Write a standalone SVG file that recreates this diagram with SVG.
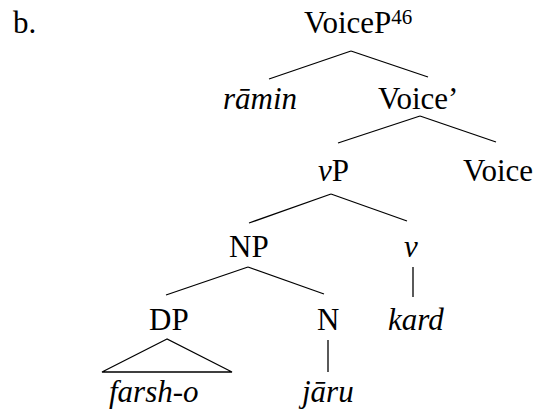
<svg xmlns="http://www.w3.org/2000/svg" width="541" height="412" viewBox="0 0 541 412">
<style>
text{font-family:"Liberation Serif","Times New Roman",serif;font-size:31px;fill:#000}
.i{font-style:italic}
.sup{font-size:21px}
.e line,.e polygon{stroke:#000;stroke-width:1.3;fill:none}
</style>
<rect width="541" height="412" fill="#fff"/>
<g id="label"><text x="13" y="33">b.</text></g>
<g class="e" id="connectors">
<line x1="351" y1="51" x2="269" y2="79"/>
<line x1="351" y1="51" x2="428" y2="77"/>
<line x1="420" y1="116" x2="338" y2="143"/>
<line x1="420" y1="116" x2="496" y2="142"/>
<line x1="331" y1="194" x2="249" y2="223"/>
<line x1="331" y1="194" x2="407" y2="221"/>
<line x1="248" y1="267" x2="166" y2="295"/>
<line x1="248" y1="267" x2="324" y2="294"/>
<line x1="413" y1="267" x2="413" y2="297"/>
<polygon points="167,339 102,372 232,372"/>
<line x1="328" y1="340" x2="328" y2="372"/>
</g>
<g id="VoiceP"><text x="304" y="33">VoiceP<tspan class="sup" dy="-9">46</tspan></text></g>
<g id="ramin"><text class="i" x="223" y="109">rāmin</text></g>
<g id="VoiceBar"><text x="378" y="109">Voice’</text></g>
<g id="vP"><text x="318" y="181"><tspan class="i">v</tspan>P</text></g>
<g id="Voice"><text x="463" y="181">Voice</text></g>
<g id="NP"><text x="229" y="257">NP</text></g>
<g id="v"><text class="i" x="404" y="257">v</text></g>
<g id="DP"><text x="149" y="330">DP</text></g>
<g id="N"><text x="317" y="330">N</text></g>
<g id="kard"><text class="i" x="388" y="330">kard</text></g>
<g id="farsh-o"><text class="i" x="109" y="402">farsh-o</text></g>
<g id="jaru"><text class="i" x="302" y="402">jāru</text></g>
</svg>
